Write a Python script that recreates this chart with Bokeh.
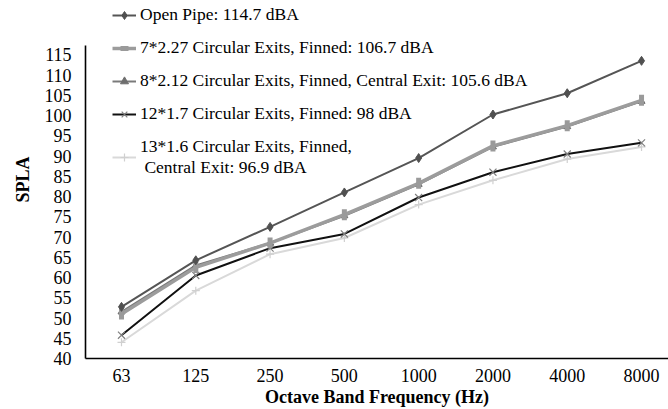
from bokeh.plotting import figure
from bokeh.models import ColumnDataSource, Range1d, FixedTicker, Legend, LegendItem
from bokeh.embed import file_html
from bokeh.resources import INLINE
import numpy as np

# ---- data ----
freq_labels = ["63", "125", "250", "500", "1000", "2000", "4000", "8000"]
y_ticks = [40, 45, 50, 55, 60, 65, 70, 75, 80, 85, 90, 95, 100, 105, 110, 115]

open_pipe = [52.75, 64.25, 72.5, 81.0, 89.5, 100.25, 105.5, 113.5]
exits_7 = [51.0, 62.5, 68.5, 75.5, 83.25, 92.5, 97.5, 103.75]
exits_8 = [51.5, 63.0, 68.5, 75.25, 83.0, 92.25, 97.25, 103.5]
exits_12 = [45.75, 60.5, 67.25, 70.75, 79.75, 86.0, 90.5, 93.25]
exits_13 = [44.0, 56.75, 65.75, 69.75, 78.0, 84.0, 89.25, 92.25]

names = [
    "Open Pipe: 114.7 dBA",
    "7*2.27 Circular Exits, Finned: 106.7 dBA",
    "8*2.12 Circular Exits, Finned, Central Exit: 105.6 dBA",
    "12*1.7 Circular Exits, Finned: 98 dBA",
    "13*1.6 Circular Exits, Finned,\n Central Exit: 96.9 dBA",
]

FONT = "Liberation Serif"

xs = list(range(len(freq_labels)))
src = ColumnDataSource(dict(x=xs, op=open_pipe, e7=exits_7, e8=exits_8, e12=exits_12, e13=exits_13))

p = figure(width=668, height=409, output_backend="svg", toolbar_location=None,
           x_range=Range1d(-0.4845, 7.363), y_range=Range1d(40, 128.4),
           min_border_left=85, min_border_top=0, min_border_bottom=51, min_border_right=0)
p.outline_line_color = None
p.xgrid.grid_line_color = None
p.ygrid.grid_line_color = None
p.background_fill_color = "white"

# series (drawn bottom to top)
l13 = p.line("x", "e13", source=src, line_color="#d9d9d9", line_width=2)
m13 = p.scatter("x", "e13", source=src, marker="cross", size=8, line_color="#d0d0d0", line_width=1.2)
l12 = p.line("x", "e12", source=src, line_color="#111111", line_width=2)
m12 = p.scatter("x", "e12", source=src, marker="x", size=10, line_color="#808080", line_width=1.2)
l8 = p.line("x", "e8", source=src, line_color="#7a7a7a", line_width=2)
m8 = p.scatter("x", "e8", source=src, marker="triangle", size=7, line_color="#6e6e6e", fill_color="#6e6e6e")
l7 = p.line("x", "e7", source=src, line_color="#9c9c9c", line_width=3.5)
m7 = p.scatter("x", "e7", source=src, marker="dash", angle=np.pi / 2, size=11, line_color="#9a9a9a", line_width=5)
lo = p.line("x", "op", source=src, line_color="#555555", line_width=2)
mo = p.scatter("x", "op", source=src, marker="diamond", size=9, line_color="#505050", fill_color="#505050")

legend = Legend(items=[
    LegendItem(label=names[0], renderers=[lo, mo]),
    LegendItem(label=names[1], renderers=[l7, m7]),
    LegendItem(label=names[2], renderers=[l8, m8]),
    LegendItem(label=names[3], renderers=[l12, m12]),
    LegendItem(label=names[4], renderers=[l13, m13]),
], location=(27, 180))
legend.label_text_font = FONT
legend.label_text_font_size = "17.5px"
legend.label_text_color = "#000000"
legend.glyph_width = 24
legend.glyph_height = 20
legend.label_height = 20
legend.spacing = 12
legend.padding = 0
legend.margin = 0
legend.label_standoff = 4
legend.border_line_color = None
legend.background_fill_alpha = 0
p.add_layout(legend, "center")

# axes
p.xaxis.ticker = FixedTicker(ticks=xs)
p.xaxis.major_label_overrides = {i: lab for i, lab in zip(xs, freq_labels)}
p.yaxis.ticker = FixedTicker(ticks=y_ticks)
p.yaxis.bounds = (40, 117.3)
for ax in (p.xaxis[0], p.yaxis[0]):
    ax.axis_line_color = "black"
    ax.axis_line_width = 1.6
    ax.major_tick_line_color = None
    ax.minor_tick_line_color = None
    ax.major_label_text_font = FONT
    ax.major_label_text_font_size = "18px"
    ax.major_label_text_color = "black"
    ax.axis_label_text_font = FONT
    ax.axis_label_text_font_size = "18px"
    ax.axis_label_text_font_style = "bold"
    ax.axis_label_text_color = "black"
p.xaxis.axis_label = "Octave Band Frequency (Hz)"
p.yaxis.axis_label = "SPLA"
p.xaxis.major_label_standoff = 4
p.xaxis.axis_label_standoff = 2
p.yaxis.major_label_standoff = 8
p.yaxis.axis_label_standoff = 9

open("out.html", "w").write(file_html(p, INLINE))
